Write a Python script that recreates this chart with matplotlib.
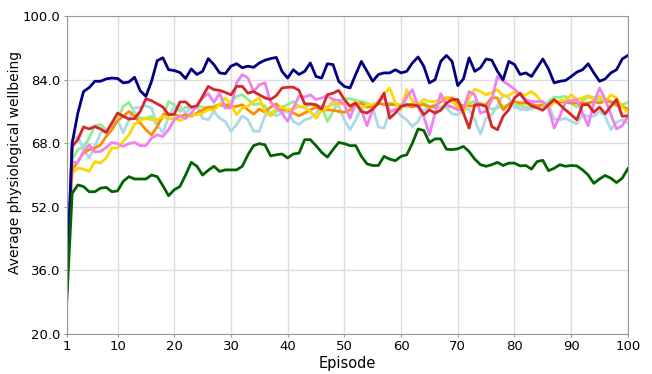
import numpy as np
import matplotlib
matplotlib.use("Agg")
import matplotlib.pyplot as plt

episodes = np.arange(1, 101)

navy = [31, 68, 75.6, 81, 82, 83.6, 83.6, 84.2, 84.4, 84.3,
        83.2, 83.4, 84.6, 81.2, 79.8, 83.6, 88.8, 89.5, 86.5, 86.3,
        85.8, 84.3, 86.7, 85.3, 86.1, 89.3, 87.8, 85.7, 85.5, 87.4,
        88, 87, 87.4, 87.1, 88.2, 88.9, 89.3, 89.6, 86.1, 84.4,
        86.5, 85.3, 86.1, 88.2, 84.8, 84.4, 88, 87.8, 83.6, 82.3,
        81.9, 85.3, 88.6, 86.1, 83.6, 85.3, 85.7, 85.7, 86.5, 85.7,
        86.1, 88.2, 89.7, 87.4, 83.2, 84, 88.6, 90.1, 88.6, 82.5,
        84.2, 89.5, 86.1, 87, 89.2, 88.9, 86.1, 84, 88.6, 87.8,
        85.3, 85.7, 84.8, 87, 89.2, 86.7, 83.2, 83.6, 83.8, 84.8,
        85.9, 86.5, 88, 85.7, 83.6, 84.2, 85.7, 86.5, 89.2, 90.1]

dark_green = [27, 55.4, 57.5, 57.1, 55.8, 55.8, 56.7, 56.9, 55.8, 56,
              58.4, 59.6, 59, 59, 59, 60, 59.6, 57.3, 54.8, 56.3,
              57.1, 60, 63.2, 62.2, 60, 61.2, 62.2, 60.9, 61.3, 61.3,
              61.3, 62.2, 65.1, 67.4, 67.9, 67.6, 64.8, 65.1, 65.3, 64.3,
              65.3, 65.5, 68.9, 68.9, 67.4, 65.7, 64.5, 66.4, 68.2, 67.9,
              67.4, 67.4, 64.7, 62.8, 62.4, 62.4, 64.7, 64, 63.6, 64.7,
              65.1, 68, 71.6, 71.2, 68.2, 69.1, 69.1, 66.5, 66.4, 66.6,
              67.2, 65.9, 64, 62.6, 62.2, 62.6, 63.2, 62.4, 63, 63,
              62.3, 62.4, 61.5, 63.4, 63.7, 61.1, 61.7, 62.6, 62.2, 62.4,
              62.3, 61.3, 60, 57.9, 59, 59.9, 59.2, 58.1, 59.2, 61.6]

red = [30, 67.2, 68.9, 72.1, 71.6, 72.2, 71.6, 70.7, 73.1, 75.6,
       74.8, 74.1, 74.2, 76, 79.2, 78.7, 77.9, 77.1, 75.2, 75.3,
       78.4, 78.4, 77.1, 77.4, 79.8, 82.3, 81.5, 81.3, 80.8, 80.2,
       82.3, 82.3, 80.6, 81, 80.2, 79.4, 79, 80, 81.9, 82.1,
       82.1, 81.3, 77.9, 77.9, 77.7, 76.6, 80.2, 80.6, 81.3, 79,
       77.3, 78.1, 76, 75.6, 76.6, 78.1, 80.6, 74.3, 75.6, 77.3,
       77.7, 77.7, 77.4, 75.2, 76.4, 75.6, 76.3, 78.1, 79, 79,
       75.6, 71.8, 77.7, 77.7, 77.3, 72.2, 71.4, 74.8, 76.4, 79.4,
       80.6, 78.5, 77.4, 76.9, 76.3, 77.7, 79, 77.7, 76.4, 75.2,
       73.9, 77.7, 77.7, 75.8, 77.1, 75.4, 77.3, 79, 74.8, 74.9]

violet = [30, 63.2, 63.2, 65.9, 67.6, 65.8, 65.9, 66.9, 68.2, 67.9,
          67.2, 67.9, 68.2, 67.4, 67.4, 69.3, 70.1, 69.7, 71.4, 73.9,
          74.8, 74.3, 75.6, 77.4, 79.4, 80.5, 78.3, 80.6, 76.9, 76.9,
          83.2, 85.3, 84.4, 81, 82.7, 83.2, 78.3, 77.1, 75.6, 73.5,
          76.9, 79.8, 79.6, 80.2, 79, 79.4, 80, 79, 78.8, 77.7,
          74.3, 78.1, 76.3, 72.4, 76.4, 78.5, 79.6, 76, 76.4, 76.9,
          79.6, 81.5, 77.1, 74.8, 70.1, 75.6, 80.5, 77.7, 77.1, 76.4,
          76.6, 81, 80.2, 75.6, 76, 79, 84.8, 83.6, 82.7, 81.6,
          80.2, 79, 78.5, 78.5, 78.5, 76.9, 71.8, 74.8, 78.3, 78.7,
          79, 75.6, 72.4, 78.1, 81.9, 79, 75.2, 71.6, 72.4, 74.8]

gold = [30, 60.5, 61.7, 61.5, 60.9, 63.4, 63, 64.3, 66.8, 66.8,
        68.5, 70.1, 72.8, 73.7, 74.3, 73.9, 73.9, 74.8, 74.1, 74.3,
        73.7, 74.3, 75.2, 75.2, 75.6, 76.5, 76.4, 77.7, 79.4, 77.7,
        75.2, 76.9, 77.3, 78.5, 79.4, 76, 74.9, 76.9, 77.1, 76.4,
        76.6, 77.3, 77.1, 76, 74.3, 76.3, 76.9, 78.5, 77.7, 78.1,
        77.4, 78.5, 76.6, 77.7, 77.7, 78.5, 80.5, 81.9, 78.1, 76.4,
        81.5, 78.5, 77.9, 79, 78.5, 78.5, 79, 79.6, 78.5, 77.1,
        75.6, 79.4, 81.6, 81, 80.2, 80.8, 81.5, 79.8, 80, 81,
        80.2, 80.2, 81, 79.8, 78.1, 76.9, 78.3, 78.7, 78.8, 80.2,
        79, 79.4, 80, 79.1, 79.8, 78.5, 80.2, 79.4, 77.1, 75.8]

orange = [30, 61.3, 63.4, 65.5, 66.4, 66.8, 67.6, 69.7, 71.4, 73.7,
          74.8, 76, 74.8, 73.1, 71.4, 70.1, 72.2, 75.2, 75.3, 75.2,
          74.8, 75.2, 74.8, 75.6, 76.4, 77.1, 76.9, 77.7, 77.7, 77.1,
          77.3, 77.7, 76.4, 75.3, 76.6, 75.8, 77.1, 77.9, 76.4, 76.4,
          75.6, 74.9, 75.6, 76.4, 77.1, 76.4, 76.4, 76.3, 76, 75.8,
          76.4, 77.7, 78.1, 77.1, 77.3, 78.1, 77.7, 77.7, 77.7, 77.1,
          77.7, 77.1, 77.7, 77.7, 77.1, 77.4, 78.5, 79.4, 79.4, 78.1,
          77.4, 77.4, 77.4, 77.7, 77.7, 79.5, 79.4, 76.4, 77.9, 78.5,
          78.1, 78.1, 77.9, 77.4, 77.7, 76.9, 78.5, 78.5, 78.3, 78.1,
          78.1, 78.1, 78.1, 78.5, 78.1, 78.7, 78.5, 77.7, 77.3, 76.6]

light_green = [29, 63.8, 66.4, 67, 69.3, 72.4, 72.7, 71.4, 72.7, 73.9,
               77.3, 78.3, 75.8, 74.3, 74.3, 74.8, 72.4, 74.6, 78.5, 77.7,
               76, 77.1, 76.9, 77.3, 77.1, 76.9, 77.4, 77.7, 77.1, 78.5,
               79.8, 80.2, 79, 77.7, 77.9, 77.4, 74.9, 76, 77.1, 77.7,
               78.5, 77.1, 77.1, 77.7, 77.3, 77.3, 73.5, 76, 78.5, 79.2,
               79.2, 78.8, 78.5, 78.1, 77.4, 77.9, 77.9, 78.1, 77.9, 77.7,
               77.1, 77.4, 77.3, 78.1, 77.3, 76.9, 77.1, 77.4, 77.1, 76.6,
               76.4, 78.1, 78.5, 78.1, 77.1, 76.6, 76.9, 77.4, 77.4, 77.7,
               77.4, 77.1, 77.1, 77.1, 77.4, 78.5, 79.6, 79.6, 79.8, 78.1,
               77.1, 78.8, 79.6, 79.6, 78.8, 79, 78.3, 77.4, 77.7, 78.3]

light_blue = [30, 68.9, 69.7, 66.4, 64.3, 67.2, 70.6, 71.4, 72.2, 73.9,
              70.6, 73.9, 76.9, 77.1, 77.4, 76.9, 72.7, 70.6, 74.8, 77.1,
              77.3, 75.6, 76.9, 77.4, 74.3, 73.9, 76, 74.3, 73.5, 71,
              72.7, 74.9, 73.9, 71, 71, 74.9, 75.8, 74.9, 75.6, 76,
              73.5, 72.7, 73.9, 74.3, 75.6, 77.3, 77.1, 77.7, 77.3, 73.9,
              71.4, 73.9, 76.9, 77.3, 76.9, 72.1, 71.8, 76, 76.6, 74.9,
              73.9, 72.2, 73.5, 76.4, 77.1, 77.7, 76.9, 76.9, 75.4, 75.2,
              76.4, 76.6, 73.9, 70.3, 74.3, 75.2, 77.4, 80.2, 79.4, 77.1,
              76.6, 76.4, 76.6, 77.1, 77.3, 77.7, 74.1, 73.9, 74.3, 73.5,
              72.9, 75.2, 74.8, 74.8, 76, 74.8, 71.4, 73.3, 73.9, 73.1]

series = [
    (light_green, "lightgreen"),
    (light_blue, "lightblue"),
    (orange, "darkorange"),
    (gold, "gold"),
    (violet, "violet"),
    (red, "tab:red"),
    (navy, "navy"),
    (dark_green, "darkgreen"),
]

fig = plt.figure(figsize=(6.52, 3.74), dpi=100)
ax = fig.add_axes([0.102, 0.107, 0.861, 0.85])

for values, color in series:
    ax.plot(episodes, values, color=color, linewidth=2)

ax.set_xlim(1, 100)
ax.set_ylim(20, 100)
ax.set_xticks([1, 10, 20, 30, 40, 50, 60, 70, 80, 90, 100])
ax.set_yticks([20, 36, 52, 68, 84, 100])
ax.set_yticklabels(["20.0", "36.0", "52.0", "68.0", "84.0", "100.0"])
ax.tick_params(axis="both", length=2.5, width=0.8, color="#999999",
               pad=2, labelsize=9.5)
ax.grid(True, color="#dddddd", linewidth=1)
ax.set_axisbelow(True)
for sp in ax.spines.values():
    sp.set_color("#999999")
ax.set_xlabel("Episode", fontsize=10.5, labelpad=2)
ax.set_ylabel("Average physiological wellbeing", fontsize=10)
ax.yaxis.set_label_coords(-0.08, 0.54)

fig.savefig("out.png", dpi=100)
